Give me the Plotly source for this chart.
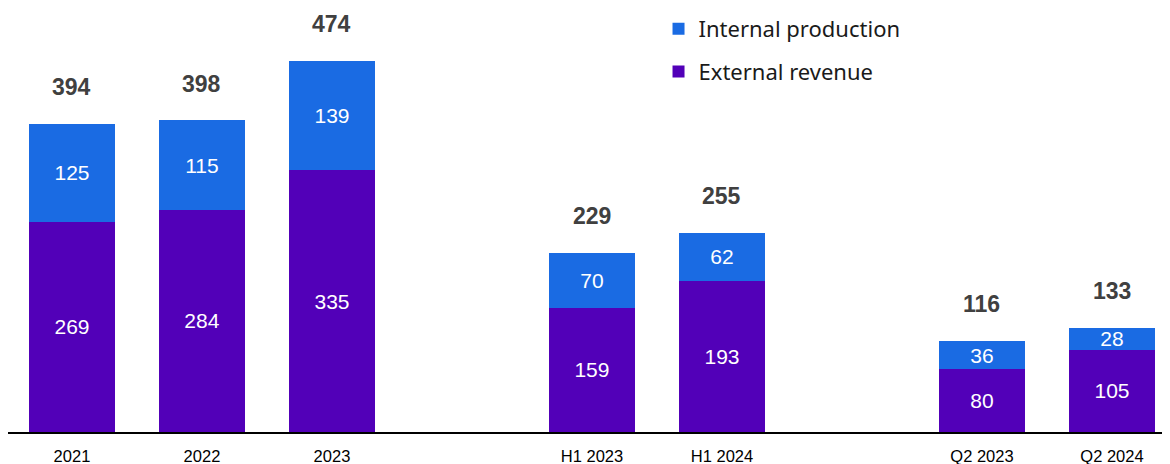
import plotly.graph_objects as go

categories = ["2021", "2022", "2023", "H1 2023", "H1 2024", "Q2 2023", "Q2 2024"]
positions = [0, 1, 2, 4, 5, 7, 8]
external_revenue = [269, 284, 335, 159, 193, 80, 105]
internal_production = [125, 115, 139, 70, 62, 36, 28]
totals = [394, 398, 474, 229, 255, 116, 133]

C_EXT = "#5200b8"
C_INT = "#1a6be3"

fig = go.Figure()
fig.add_trace(go.Bar(
    x=positions, y=external_revenue, name="External revenue",
    marker=dict(color=C_EXT, line=dict(width=0)), width=0.665,
    text=[str(v) for v in external_revenue], textposition="inside",
    insidetextanchor="middle",
    textfont=dict(color="white", size=21, family="Liberation Sans"),
    legendrank=2, legendgroup="ext",
))
fig.add_trace(go.Bar(
    x=positions, y=internal_production, name="Internal production",
    marker=dict(color=C_INT, line=dict(width=0)), width=0.665,
    text=[str(v) for v in internal_production], textposition="inside",
    insidetextanchor="middle",
    textfont=dict(color="white", size=21, family="Liberation Sans"),
    legendrank=1, legendgroup="int",
))

for p, t in zip(positions, totals):
    fig.add_annotation(x=p, y=t, text=f"<b>{t}</b>", showarrow=False,
                       yanchor="bottom", yshift=22,
                       font=dict(size=23, color="#404040", family="Liberation Sans"))

fig.update_layout(
    width=1170, height=464,
    margin=dict(l=0, r=0, t=0, b=40),
    barmode="stack",
    plot_bgcolor="white", paper_bgcolor="white",
    uniformtext=dict(mode="show", minsize=21),
    showlegend=True,
    legend=dict(x=0.556, y=1.012, xanchor="left", yanchor="top",
                traceorder="grouped", tracegroupgap=11,
                font=dict(size=22, color="#1a1a1a", family="Noto Sans"),
                itemwidth=30, bgcolor="rgba(0,0,0,0)"),
    xaxis=dict(range=[-0.492, 8.508], tickmode="array", tickvals=positions,
               ticktext=categories, showgrid=False, zeroline=False,
               showline=True, linecolor="black", linewidth=2, ticks="",
               ticklabelstandoff=8,
               tickfont=dict(size=16.5, color="black", family="Liberation Sans")),
    yaxis=dict(range=[0, 536], visible=False, showgrid=False, zeroline=False),
)

fig.write_html("out.html")
